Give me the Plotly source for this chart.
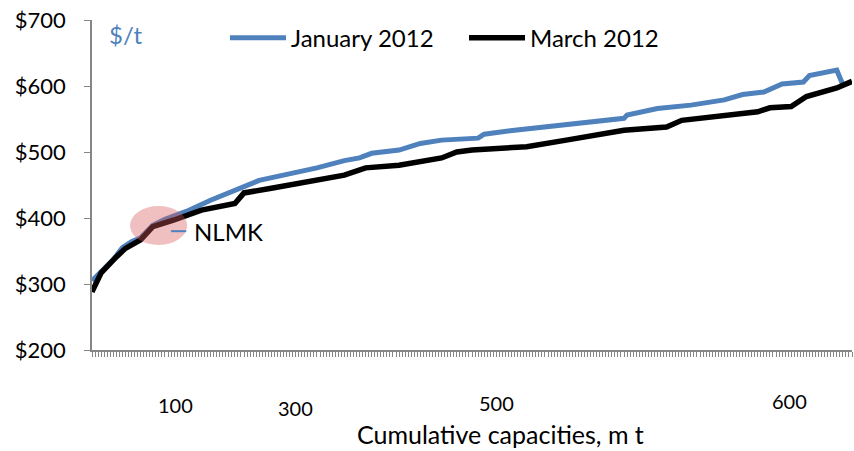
import plotly.graph_objects as go

# Category index along the cumulative-capacity axis (about 250 plants)
jan_x = [0, 4, 7, 10, 13, 16, 20, 24, 31, 39, 47, 55, 66, 74, 83, 88, 92, 101, 108, 115,
         127, 129, 139, 147, 156, 164, 175, 176, 186, 197, 208, 214, 221, 227, 234, 236, 241, 245, 247]
jan_y = [305, 324, 337, 355, 364, 370, 389, 398, 410, 427, 442, 457, 468, 476, 487, 491, 498, 503, 513, 518,
         521, 527, 533, 537, 543, 547, 551, 556, 566, 571, 579, 587, 591, 603, 606, 616, 621, 624, 602]
mar_x = [0, 3, 8, 11, 16, 20, 27, 36, 47, 50, 59, 72, 83, 90, 101, 115, 120, 125, 143, 156,
         167, 175, 189, 194, 219, 223, 230, 235, 245, 250]
mar_y = [288, 317, 341, 354, 367, 387, 397, 412, 422, 438, 445, 455, 465, 476, 480, 491, 500, 503, 508, 518,
         526, 533, 538, 548, 561, 567, 569, 584, 597, 607]

y_ticks = [200, 300, 400, 500, 600, 700]
y_labels = ["$200", "$300", "$400", "$500", "$600", "$700"]
x_label_text = ["100", "300", "500", "600"]
x_label_pos = [27.5, 67, 133, 229.6]
x_label_dy = [-0.168, -0.176, -0.162, -0.156]

FONT = "Lato"
BLUE = "#4F81BD"

fig = go.Figure()
fig.add_trace(go.Scatter(x=jan_x, y=jan_y, mode="lines", name="January 2012",
                         line=dict(color=BLUE, width=5)))
fig.add_trace(go.Scatter(x=mar_x, y=mar_y, mode="lines", name="March 2012",
                         line=dict(color="black", width=5.5)))

# NLMK highlight
fig.add_shape(type="circle", xref="x", yref="y", x0=12.5, x1=31.3, y0=359, y1=418,
              fillcolor="rgba(215,90,90,0.38)", line=dict(width=0), layer="above")
fig.add_shape(type="line", xref="x", yref="y", x0=26, x1=31, y0=380, y1=380,
              line=dict(color=BLUE, width=2))
fig.add_annotation(x=33, y=380, xref="x", yref="y", text="NLMK", showarrow=False,
                   xanchor="left", yanchor="middle", font=dict(size=24, color="black", family=FONT))
fig.add_annotation(x=0.02, y=0.955, xref="paper", yref="paper", text="$/t", showarrow=False,
                   xanchor="left", yanchor="middle", font=dict(size=24, color=BLUE, family=FONT))

for t, xp, dy in zip(x_label_text, x_label_pos, x_label_dy):
    fig.add_annotation(x=xp, y=dy, xref="x", yref="paper", text=t, showarrow=False,
                       xanchor="center", yanchor="middle", font=dict(size=20, color="black", family=FONT))
fig.add_annotation(x=0.538, y=-0.256, xref="paper", yref="paper", text="Cumulative capacities, m t",
                   showarrow=False, xanchor="center", yanchor="middle",
                   font=dict(size=25, color="black", family=FONT))

fig.update_layout(
    width=854, height=451,
    margin=dict(l=92, r=2, t=20, b=101),
    paper_bgcolor="white", plot_bgcolor="white",
    font=dict(family=FONT, size=20, color="black"),
    showlegend=True,
    legend=dict(orientation="h", x=0.175, y=0.945, xanchor="left", yanchor="middle",
                font=dict(size=24, family=FONT), itemwidth=56, entrywidth=168,
                bgcolor="rgba(0,0,0,0)"),
    xaxis=dict(range=[0, 250], showgrid=False, zeroline=False, showline=True,
               linecolor="#868686", linewidth=1.5, ticks="outside", tick0=0, dtick=1,
               ticklen=5, tickcolor="#868686", tickwidth=1, showticklabels=False, fixedrange=True),
    yaxis=dict(range=[200, 700], tickvals=y_ticks, ticktext=y_labels, showgrid=False,
               zeroline=False, showline=True, linecolor="#868686", linewidth=1.5,
               ticks="outside", ticklen=6, tickcolor="#868686", ticklabelstandoff=14,
               tickfont=dict(size=22, family=FONT), fixedrange=True),
)

fig.write_html("out.html")
